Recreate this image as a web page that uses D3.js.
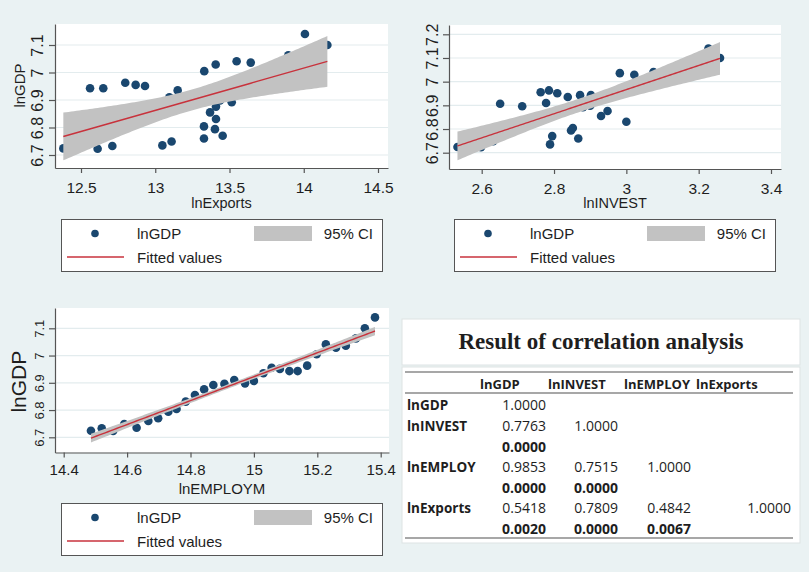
<!DOCTYPE html>
<html>
<head>
<meta charset="utf-8">
<title>lnGDP fits and correlation analysis</title>
<script src="https://d3js.org/d3.v7.min.js"></script>
<style>
    body { margin: 0; background: #fff; }
    svg text { font-family: "Liberation Sans", Arial, sans-serif; fill: #1e1e1e; }
    .axis path, .axis line { stroke: #555; stroke-width: 1.2; }
    .tbl text { font-family: "Open Sans", sans-serif; }
</style>
</head>
<body>
<div id="chart"></div>
<script>
// one value per year, same order in every series
var lnGDP     = [6.724, 6.733, 6.723, 6.749, 6.735, 6.760, 6.770, 6.794, 6.804, 6.831,
                 6.855, 6.876, 6.892, 6.896, 6.910, 6.898, 6.907, 6.935, 6.955, 6.951,
                 6.943, 6.943, 6.963, 7.005, 7.041, 7.029, 7.036, 7.063, 7.100, 7.140];
var lnEMPLOY  = [14.486, 14.520, 14.556, 14.591, 14.630, 14.667, 14.698, 14.730, 14.756, 14.785,
                 14.814, 14.843, 14.872, 14.907, 14.938, 14.972, 15.000, 15.030, 15.056, 15.082,
                 15.112, 15.138, 15.168, 15.198, 15.227, 15.259, 15.290, 15.322, 15.350, 15.382];
var lnExports = [12.381, 12.711, 12.612, 13.110, 13.048, 13.328, 13.454, 13.402, 13.328, 13.409,
                 13.369, 13.409, 13.515, 13.250, 13.095, 13.436, 13.300, 13.151, 12.868, 12.931,
                 12.561, 12.650, 12.798, 13.330, 13.548, 13.407, 13.643, 13.896, 14.159, 14.008];
var lnINVEST  = [2.533, 2.565, 2.598, 2.632, 2.789, 2.867, 2.795, 2.847, 2.852, 3.000,
                 2.930, 2.948, 2.880, 2.712, 2.778, 2.900, 2.651, 2.838, 2.763, 2.809,
                 2.872, 2.902, 2.786, 3.050, 3.075, 3.022, 2.982, 3.150, 3.259, 3.227];

var exportTicks = [12.5, 13, 13.5, 14, 14.5];
var investTicks = [2.6, 2.8, 3, 3.2, 3.4];
var employTicks = [14.4, 14.6, 14.8, 15, 15.2, 15.4];
var gdpTicks = [6.7, 6.8, 6.9, 7, 7.1];
var gdpTicksWide = [6.7, 6.8, 6.9, 7, 7.1, 7.2];
var legendLabels = ["lnGDP", "95% CI", "Fitted values"];

var corrTitle = "Result of correlation analysis";
var corrVars = ["lnGDP", "lnINVEST", "lnEMPLOY", "lnExports"];
var corrValues = [[1], [0.7763, 1], [0.9853, 0.7515, 1], [0.5418, 0.7809, 0.4842, 1]];
var corrPValues = [[], [0], [0, 0], [0.0020, 0, 0.0067]];

const width = 809, height = 575;
const bg = "#eaf2f3", dotColor = "#1a476f", lineColor = "#c8323c", ciColor = "#c2c2c2";

var svg = d3.select("#chart").append("svg")
    .attr("width", width)
    .attr("height", height);

svg.append("rect").attr("width", width).attr("height", 572).attr("fill", bg);

// least squares line with 95% CI of the mean (t, n-2 df = 28)
function fitCI(xs, ys) {
    var n = xs.length, mx = d3.mean(xs), my = d3.mean(ys);
    var sxx = d3.sum(xs, function(x) { return (x - mx) * (x - mx); });
    var sxy = d3.sum(xs, function(x, i) { return (x - mx) * (ys[i] - my); });
    var b = sxy / sxx, a = my - b * mx;
    var sse = d3.sum(xs, function(x, i) { return Math.pow(ys[i] - a - b * x, 2); });
    var s = Math.sqrt(sse / (n - 2)), t = 2.048;
    var ext = d3.extent(xs);
    return d3.range(101).map(function(k) {
        var x = ext[0] + (ext[1] - ext[0]) * k / 100;
        var yh = a + b * x, se = s * Math.sqrt(1 / n + (x - mx) * (x - mx) / sxx);
        return {x: x, y: yh, lo: yh - t * se, hi: yh + t * se};
    });
}

// scale that puts v0->p0 and v1->p1, stretched to the plot edges
function edgeScale(v0, v1, p0, p1, e0, e1) {
    var s = d3.scaleLinear().domain([v0, v1]).range([p0, p1]);
    return d3.scaleLinear().domain([s.invert(e0), s.invert(e1)]).range([e0, e1]);
}

var panels = [
    {xs: lnExports, xTicks: exportTicks, yTicks: gdpTicks, xTitle: "lnExports",
     l: 55, r: 388, t: 24, b: 168, xm: [12.5, 14.5, 81, 378], ym: [6.7, 7.1, 155, 45],
     tickFont: 15.5, yTickFont: 16, yLabOff: 12, tickBase: 24.5, titleBase: 40, titleFont: 14.5,
     yTitle: {x: 25, y: 85.5, size: 15}, legend: {l: 61, t: 219}},
    {xs: lnINVEST, xTicks: investTicks, yTicks: gdpTicksWide, xTitle: "lnINVEST",
     l: 449, r: 781, t: 25, b: 169, xm: [2.6, 3.4, 481.7, 771], ym: [6.7, 7.2, 152.7, 34.3],
     tickFont: 15.5, yTickFont: 16, yLabOff: 11.5, tickBase: 24.5, titleBase: 39, titleFont: 14.5,
     yTitle: null, legend: {l: 454, t: 219}},
    {xs: lnEMPLOY, xTicks: employTicks, yTicks: gdpTicks, xTitle: "lnEMPLOYM",
     l: 55, r: 389, t: 308, b: 452.5, xm: [14.4, 15.4, 63.7, 380.7], ym: [6.7, 7.1, 437.3, 328.3],
     tickFont: 15, yTickFont: 13, yLabOff: 11, tickBase: 22.5, titleBase: 41, titleFont: 15,
     yTitle: {x: 26, y: 381.7, size: 21}, legend: {l: 61, t: 503}}
];

panels.forEach(function(p) {
    var x = edgeScale(p.xm[0], p.xm[1], p.xm[2], p.xm[3], p.l, p.r);
    var y = edgeScale(p.ym[0], p.ym[1], p.ym[2], p.ym[3], p.b, p.t);
    var g = svg.append("g");

    g.append("rect")
        .attr("x", p.l).attr("y", p.t)
        .attr("width", p.r - p.l).attr("height", p.b - p.t)
        .attr("fill", "#fff");

    g.selectAll(".grid")
        .data(p.yTicks)
        .enter().append("line")
        .attr("x1", p.l).attr("x2", p.r)
        .attr("y1", function(d) { return y(d); })
        .attr("y2", function(d) { return y(d); })
        .attr("stroke", "#e3ecee")
        .attr("stroke-width", 1.2);

    // scatter first, then the band and the line go over it
    g.selectAll(".dot")
        .data(p.xs)
        .enter().append("circle")
        .attr("cx", function(d) { return x(d); })
        .attr("cy", function(d, i) { return y(lnGDP[i]); })
        .attr("r", 4.3)
        .attr("fill", dotColor);

    var fit = fitCI(p.xs, lnGDP);
    g.append("path")
        .datum(fit)
        .attr("fill", ciColor)
        .attr("d", d3.area()
            .x(function(d) { return x(d.x); })
            .y0(function(d) { return y(d.lo); })
            .y1(function(d) { return y(d.hi); }));

    g.append("path")
        .datum(fit)
        .attr("fill", "none")
        .attr("stroke", lineColor)
        .attr("stroke-width", 1.4)
        .attr("d", d3.line()
            .x(function(d) { return x(d.x); })
            .y(function(d) { return y(d.y); }));

    var xAxis = g.append("g")
        .attr("class", "axis")
        .attr("transform", "translate(0," + p.b + ")")
        .call(d3.axisBottom(x).tickValues(p.xTicks).tickSize(5).tickSizeOuter(0)
            .tickFormat(d3.format("")));
    xAxis.selectAll("text")
        .attr("y", p.tickBase).attr("dy", 0)
        .style("font-size", p.tickFont + "px")
        .style("font-family", "Liberation Sans, Arial, sans-serif")
        .attr("fill", "#1e1e1e");

    var yAxis = g.append("g")
        .attr("class", "axis")
        .attr("transform", "translate(" + p.l + ",0)")
        .call(d3.axisLeft(y).tickValues(p.yTicks).tickSize(6).tickSizeOuter(0)
            .tickFormat(d3.format("")));
    yAxis.selectAll("text")
        .attr("x", 0).attr("dy", 0)
        .attr("text-anchor", "middle")
        .attr("transform", "translate(" + (-p.yLabOff) + ",0) rotate(-90)")
        .style("font-size", p.yTickFont + "px")
        .style("font-family", "Liberation Sans, Arial, sans-serif")
        .attr("fill", "#1e1e1e");

    g.append("text")
        .attr("x", (p.l + p.r) / 2)
        .attr("y", p.b + p.titleBase)
        .attr("text-anchor", "middle")
        .style("font-size", p.titleFont + "px")
        .text(p.xTitle);

    if (p.yTitle) {
        g.append("text")
            .attr("transform", "translate(" + p.yTitle.x + "," + p.yTitle.y + ") rotate(-90)")
            .attr("text-anchor", "middle")
            .style("font-size", p.yTitle.size + "px")
            .text("lnGDP");
    }

    // legend box
    var L = p.legend.l, T = p.legend.t;
    var lg = svg.append("g").attr("transform", "translate(" + L + "," + T + ")");
    lg.append("rect")
        .attr("x", 0.5).attr("y", 0.5)
        .attr("width", 321).attr("height", 52)
        .attr("fill", "#fff").attr("stroke", "#555");
    lg.append("circle").attr("cx", 34).attr("cy", 14.5).attr("r", 3.8).attr("fill", dotColor);
    lg.append("rect").attr("x", 193).attr("y", 7).attr("width", 58).attr("height", 15).attr("fill", ciColor);
    lg.append("line").attr("x1", 6).attr("x2", 63).attr("y1", 38).attr("y2", 38)
        .attr("stroke", lineColor).attr("stroke-width", 1.4);
    lg.append("text").attr("x", 76).attr("y", 20).style("font-size", "15px").text(legendLabels[0]);
    lg.append("text").attr("x", 312).attr("y", 20).attr("text-anchor", "end").style("font-size", "15px").text(legendLabels[1]);
    lg.append("text").attr("x", 76).attr("y", 43.5).style("font-size", "15px").text(legendLabels[2]);
});

// correlation table
var tbl = svg.append("g").attr("class", "tbl");
tbl.append("rect").attr("x", 402).attr("y", 319).attr("width", 398).attr("height", 46)
    .attr("fill", "#fff").attr("stroke", "#dde3e4");
tbl.append("text")
    .attr("x", 601).attr("y", 349)
    .attr("text-anchor", "middle")
    .style("font-family", "Liberation Serif, Times New Roman, serif")
    .style("font-weight", "bold")
    .style("font-size", "23px")
    .attr("fill", "#111")
    .text(corrTitle);

tbl.append("rect").attr("x", 402).attr("y", 367).attr("width", 398).attr("height", 176)
    .attr("fill", "#fff").attr("stroke", "#dde3e4");
[372, 393, 538].forEach(function(ry) {
    tbl.append("line").attr("x1", 405).attr("x2", 793).attr("y1", ry).attr("y2", ry)
        .attr("stroke", "#8a8a8a").attr("stroke-width", 1.5);
});

var headX = [480, 548, 624, 696];
var colRight = [546, 618, 691, 791];
var rowBase = [410, 431, 471.7, 513.3];
var pBase = [null, 451.7, 492.7, 534.3];

tbl.selectAll(".head")
    .data(corrVars)
    .enter().append("text")
    .attr("x", function(d, i) { return headX[i]; })
    .attr("y", 388.5)
    .style("font-weight", "bold")
    .style("font-size", "13px")
    .attr("fill", "#111")
    .text(function(d) { return d; });

corrVars.forEach(function(v, r) {
    tbl.append("text")
        .attr("x", 407).attr("y", rowBase[r])
        .style("font-weight", "bold").style("font-size", "13.5px")
        .attr("fill", "#111")
        .text(v);
    tbl.selectAll(".r" + r)
        .data(corrValues[r])
        .enter().append("text")
        .attr("x", function(d, c) { return colRight[c]; })
        .attr("y", rowBase[r])
        .attr("text-anchor", "end")
        .style("font-size", "14px")
        .attr("fill", "#3a3a3a")
        .text(function(d) { return d.toFixed(4); });
    tbl.selectAll(".p" + r)
        .data(corrPValues[r])
        .enter().append("text")
        .attr("x", function(d, c) { return colRight[c]; })
        .attr("y", pBase[r])
        .attr("text-anchor", "end")
        .style("font-weight", "bold")
        .style("font-size", "14px")
        .attr("fill", "#111")
        .text(function(d) { return d.toFixed(4); });
});
</script>
</body>
</html>
